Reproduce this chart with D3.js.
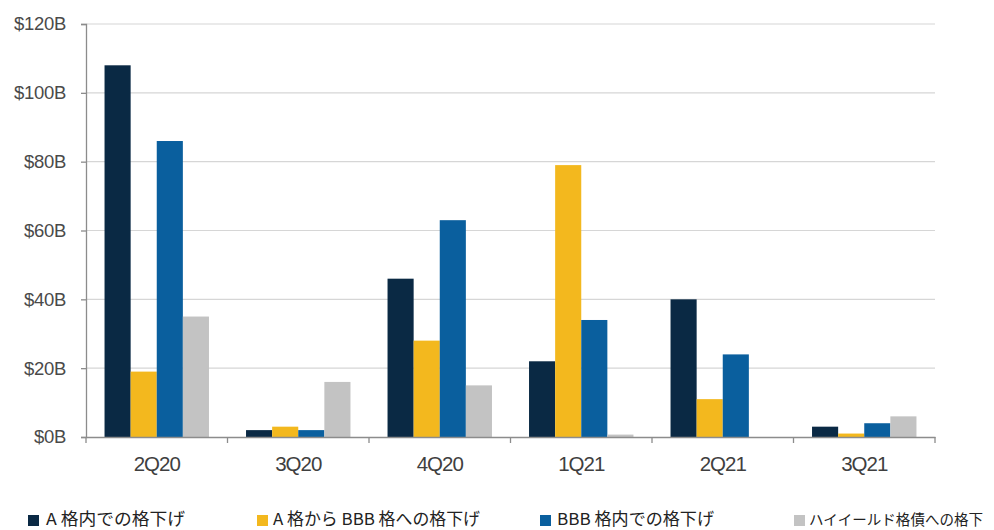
<!DOCTYPE html>
<html><head><meta charset="utf-8">
<script src="https://cdn.jsdelivr.net/npm/d3@7"></script>
<style>
html,body{margin:0;padding:0;background:#fff;}
svg{display:block;}
</style></head>
<body>
<svg id="chart" width="994" height="530"></svg>
<script>
const categories = ["2Q20","3Q20","4Q20","1Q21","2Q21","3Q21"];
const seriesNames = ["A 格内での格下げ","A 格から BBB 格への格下げ","BBB 格内での格下げ","ハイイールド格債への格下"];
const seriesColors = ["#0a2944","#f3b81e","#0a5f9e","#c3c3c3"];
const aWithin   = [108, 2, 46, 22, 40, 3];
const aToBBB    = [19, 3, 28, 79, 11, 1];
const bbbWithin = [86, 2, 63, 34, 24, 4];
const toHY      = [35, 16, 15, 0.7, 0, 6];
const yTicks = [0,20,40,60,80,100,120];

(function(){
const series = [aWithin, aToBBB, bbbWithin, toHY];
const svg = d3.select("#chart");
const mLeft = 86, mRight = 935, mTop = 24, mBottom = 437;

const x0 = d3.scaleBand().domain(categories).range([mLeft, mRight]).padding(0);
const x1 = d3.scaleBand().domain(d3.range(series.length))
  .range([x0.bandwidth()*0.131, x0.bandwidth()*0.869]).padding(0);
const y = d3.scaleLinear().domain([0,120]).range([mBottom, mTop]);

// gridlines
svg.append("g").selectAll("line").data(yTicks.filter(d=>d>0)).join("line")
  .attr("x1", mLeft).attr("x2", mRight)
  .attr("y1", d=>y(d)).attr("y2", d=>y(d))
  .attr("stroke", "#d6d6d6").attr("stroke-width", 1.2);

// bars
const g = svg.append("g");
categories.forEach((c, ci) => {
  series.forEach((s, si) => {
    g.append("rect")
      .attr("x", x0(c) + x1(si))
      .attr("width", x1.bandwidth())
      .attr("y", y(s[ci]))
      .attr("height", mBottom - y(s[ci]))
      .attr("fill", seriesColors[si]);
  });
});

// y axis
const yAxis = svg.append("g").attr("transform", `translate(${mLeft},0)`)
  .call(d3.axisLeft(y).tickValues(yTicks).tickSize(5).tickPadding(15).tickFormat(d=>"$"+d+"B"));
yAxis.select(".domain").attr("stroke", "#8c8c8c").attr("stroke-width", 1.3);
yAxis.selectAll(".tick line").attr("stroke", "#8c8c8c").attr("stroke-width", 1.3);
yAxis.selectAll("text").attr("fill", "#4a4a4a")
  .style("font-family", "'Liberation Sans', Arial, sans-serif").style("font-size", "18.5px")
  .style("letter-spacing", "-0.3px");

// x axis
const xAxis = svg.append("g").attr("transform", `translate(0,${mBottom})`)
  .call(d3.axisBottom(x0).tickSize(0).tickPadding(19));
xAxis.select(".domain").attr("stroke", "#8c8c8c").attr("stroke-width", 1.3);
xAxis.selectAll("text").attr("fill", "#3f3f3f")
  .style("font-family", "'Liberation Sans', Arial, sans-serif").style("font-size", "20.5px")
  .style("letter-spacing", "-1px");
const bounds = categories.map(c => x0(c)).concat([mRight]);
svg.append("g").selectAll("line").data(bounds).join("line")
  .attr("x1", d=>d).attr("x2", d=>d)
  .attr("y1", mBottom).attr("y2", mBottom + 6)
  .attr("stroke", "#8c8c8c").attr("stroke-width", 1.3);

// legend
const legendX = [28, 257, 540, 794];
const legendTextX = [46, 273, 557, 809];
const legendTextW = [139, 207, 157, 174];
const legendFont = [16.5, 16.5, 16.5, 14.4];
const leg = svg.append("g");
seriesNames.forEach((n, i) => {
  leg.append("rect").attr("x", legendX[i]).attr("y", 515).attr("width", 11).attr("height", 11)
    .attr("fill", seriesColors[i]);
  leg.append("text").attr("x", legendTextX[i]).attr("y", 525)
    .attr("fill", "#222")
    .attr("textLength", legendTextW[i]).attr("lengthAdjust", "spacingAndGlyphs")
    .style("font-family", "'Noto Sans CJK JP', sans-serif").style("font-size", legendFont[i] + "px")
    .text(n);
});
})();
</script>
</body></html>
